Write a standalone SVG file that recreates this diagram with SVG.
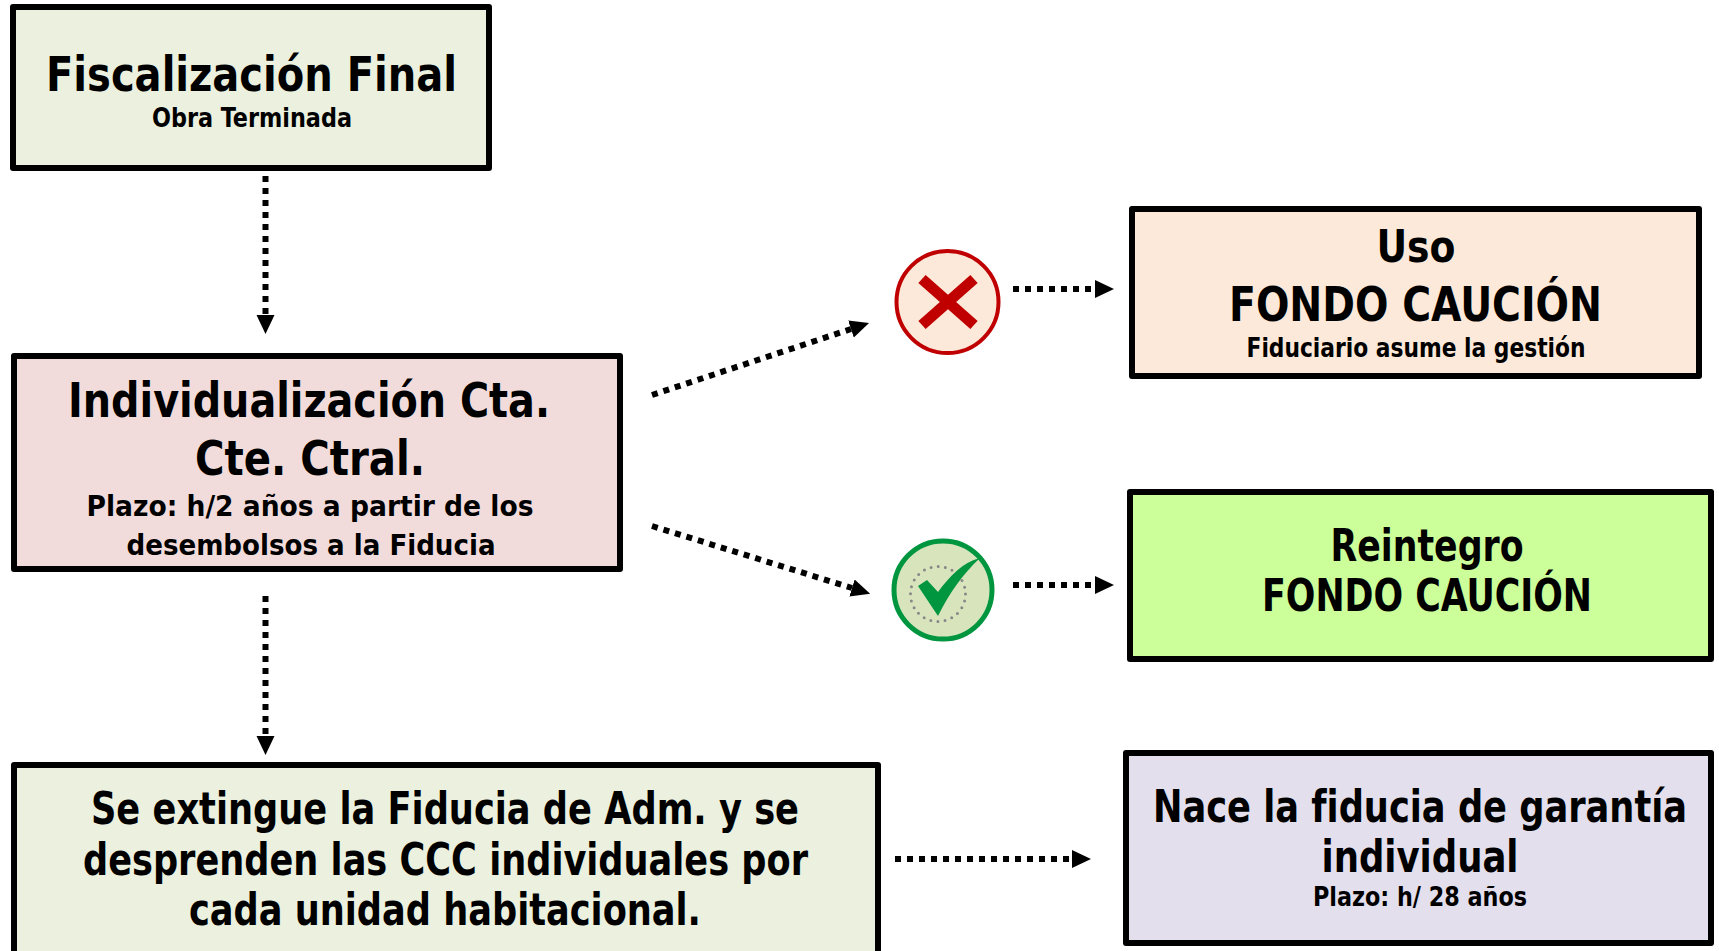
<svg xmlns="http://www.w3.org/2000/svg" width="1719" height="951" viewBox="0 0 1719 951">
<style>
text{font-family:"DejaVu Sans Condensed","DejaVu Sans",sans-serif;font-weight:700;fill:#000;text-anchor:middle;font-variant-ligatures:none}
.b{stroke:#000;stroke-width:6;stroke-linejoin:round}
.t{font-size:48px}.m{font-size:44px}.s{font-size:26px}.p{font-size:29px}
.c{fill:none;stroke:#000;stroke-width:6;stroke-dasharray:6 6}
</style>
<defs><marker id="a" markerUnits="userSpaceOnUse" markerWidth="20" markerHeight="20" refX="0" refY="10" orient="auto"><path d="M0 1L19 10L0 19Z"/></marker></defs>
<rect width="1719" height="951" fill="#fff"/>
<g id="connectors">
<path class="c" marker-end="url(#a)" d="M265.5 176V315"/>
<path class="c" marker-end="url(#a)" d="M652 395L851 329"/>
<path class="c" marker-end="url(#a)" d="M652 526L852 588"/>
<path class="c" marker-end="url(#a)" d="M1013 289H1095"/>
<path class="c" marker-end="url(#a)" d="M1013 585H1095"/>
<path class="c" marker-end="url(#a)" d="M265.5 596V736"/>
<path class="c" marker-end="url(#a)" d="M895 859H1072"/>
</g>
<g id="n1"><rect class="b" x="13" y="7" width="476" height="161" fill="#ebf0df"/>
<text class="t" x="251.5" y="91" textLength="411" lengthAdjust="spacingAndGlyphs">Fiscalización Final</text><text class="s" x="252" y="127" textLength="200" lengthAdjust="spacingAndGlyphs">Obra Terminada</text></g>
<g id="n2"><rect class="b" x="14" y="356" width="606" height="213" fill="#f2dcdb"/>
<text class="t" x="309" y="417" textLength="482" lengthAdjust="spacingAndGlyphs">Individualización Cta.</text><text class="t" x="310" y="475" textLength="230" lengthAdjust="spacingAndGlyphs">Cte. Ctral.</text>
<text class="p" x="310" y="516" textLength="447" lengthAdjust="spacingAndGlyphs">Plazo: h/2 años a partir de los</text><text class="p" x="311" y="555" textLength="369" lengthAdjust="spacingAndGlyphs">desembolsos a la Fiducia</text></g>
<g id="n3"><rect class="b" x="14" y="765" width="864" height="200" fill="#ebf0df"/>
<text class="m" x="445" y="824" textLength="708" lengthAdjust="spacingAndGlyphs">Se extingue la Fiducia de Adm. y se</text><text class="m" x="445.5" y="875" textLength="725" lengthAdjust="spacingAndGlyphs">desprenden las CCC individuales por</text><text class="m" x="445" y="925" textLength="512" lengthAdjust="spacingAndGlyphs">cada unidad habitacional.</text></g>
<g id="n4"><rect class="b" x="1132" y="209" width="567" height="167" fill="#fde9d9"/>
<text class="m" x="1416" y="262" textLength="79" lengthAdjust="spacingAndGlyphs">Uso</text><text class="t" x="1415.5" y="321" textLength="373" lengthAdjust="spacingAndGlyphs">FONDO CAUCIÓN</text><text class="s" x="1416" y="357" textLength="339" lengthAdjust="spacingAndGlyphs">Fiduciario asume la gestión</text></g>
<g id="n5"><rect class="b" x="1130" y="492" width="581" height="167" fill="#ccff99"/>
<text class="m" x="1427" y="561" textLength="193" lengthAdjust="spacingAndGlyphs">Reintegro</text><text class="m" x="1427" y="611" textLength="330" lengthAdjust="spacingAndGlyphs">FONDO CAUCIÓN</text></g>
<g id="n6"><rect class="b" x="1126" y="753" width="585" height="190" fill="#e4dfec"/>
<text class="m" transform="translate(1420 822) scale(.89 1)" x="0" y="0">Nace la fiducia de garantía</text><text class="m" x="1420" y="872" textLength="197" lengthAdjust="spacingAndGlyphs">individual</text><text class="s" x="1420" y="906" textLength="214" lengthAdjust="spacingAndGlyphs">Plazo: h/ 28 años</text></g>
<g id="x"><circle cx="947.5" cy="302" r="51" fill="#fde9d9" stroke="#c00000" stroke-width="4"/><path d="M922 279L974 325M974 279L922 325" stroke="#c00000" stroke-width="11" fill="none"/></g>
<g id="ok"><circle cx="943" cy="590" r="49" fill="#d8e4bc" stroke="#00953f" stroke-width="5"/><circle cx="938" cy="594" r="27.5" fill="none" stroke="#888" stroke-width="3" stroke-linecap="round" stroke-dasharray="0 7.2"/><path d="M918 586L927 580L938 592C950 576 963 562 980 558C963 574 950 592 938 616Z" fill="#00953f"/></g>
</svg>
